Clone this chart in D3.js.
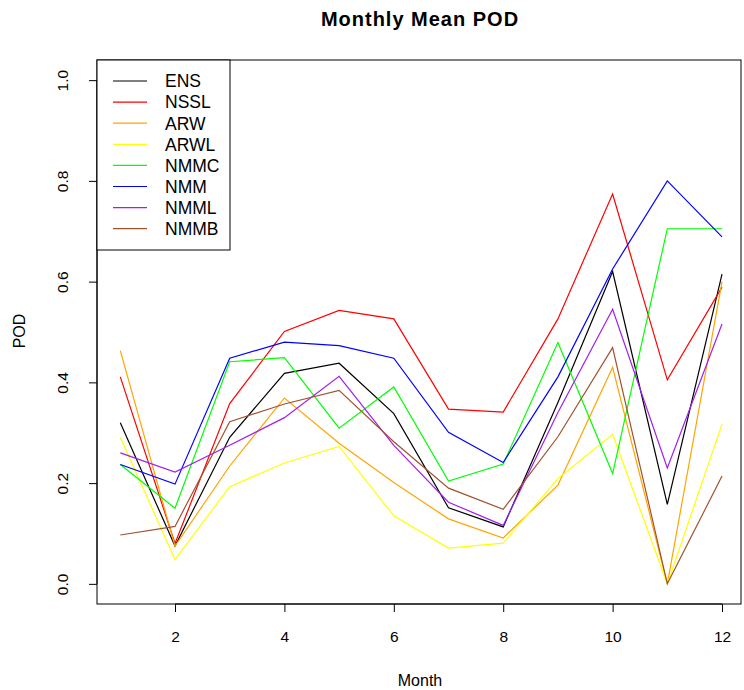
<!DOCTYPE html>
<html>
<head>
<meta charset="utf-8">
<script src="https://cdn.jsdelivr.net/npm/d3@7"></script>
<style>
  body { margin: 0; background: #fff; }
  svg text { font-family: "Liberation Sans", Arial, sans-serif; }
</style>
</head>
<body>
<svg id="chart" width="744" height="690"></svg>
<script>
// months 1..12
var months = [1, 2, 3, 4, 5, 6, 7, 8, 9, 10, 11, 12];
var seriesNames = ["ENS", "NSSL", "ARW", "ARWL", "NMMC", "NMM", "NMML", "NMMB"];
var seriesColors = ["#000000", "#ff0000", "#ffa500", "#ffff00", "#00ff00", "#0000ff", "#a020f0", "#a0522d"];

var ens  = [0.320, 0.075, 0.291, 0.418, 0.438, 0.338, 0.151, 0.113, 0.360, 0.620, 0.158, 0.615];
var nssl = [0.411, 0.080, 0.358, 0.501, 0.543, 0.526, 0.347, 0.341, 0.526, 0.774, 0.405, 0.589];
var arw  = [0.463, 0.075, 0.234, 0.369, 0.279, 0.201, 0.129, 0.091, 0.196, 0.430, 0.000, 0.600];
var arwl = [0.291, 0.048, 0.193, 0.240, 0.273, 0.135, 0.071, 0.081, 0.209, 0.297, 0.000, 0.317];
var nmmc = [0.237, 0.150, 0.441, 0.449, 0.309, 0.391, 0.204, 0.238, 0.479, 0.219, 0.705, 0.705];
var nmm  = [0.237, 0.198, 0.448, 0.480, 0.473, 0.448, 0.301, 0.241, 0.411, 0.625, 0.800, 0.689];
var nmml = [0.260, 0.222, 0.275, 0.330, 0.412, 0.275, 0.162, 0.116, 0.340, 0.545, 0.230, 0.516];
var nmmb = [0.097, 0.114, 0.322, 0.357, 0.384, 0.282, 0.190, 0.148, 0.292, 0.469, 0.000, 0.214];
var seriesValues = [ens, nssl, arw, arwl, nmmc, nmm, nmml, nmmb];

var xTicks = [2, 4, 6, 8, 10, 12];
var yTicks = [0, 0.2, 0.4, 0.6, 0.8, 1.0];

var svg = d3.select("#chart");
var boxL = 97, boxR = 741, boxT = 60, boxB = 604;

var x = d3.scaleLinear().domain([0.574, 12.347]).range([boxL, boxR]);
var y = d3.scaleLinear().domain([-0.04, 1.04]).range([boxB, boxT]);

// title
svg.append("text")
    .attr("x", 420)
    .attr("y", 26)
    .attr("text-anchor", "middle")
    .style("font-size", "20px")
    .style("font-weight", "bold")
    .style("letter-spacing", "1px")
    .text("Monthly Mean POD");

// axes
var xAxis = svg.append("g")
    .attr("transform", "translate(0," + boxB + ")")
    .call(d3.axisBottom(x).tickValues(xTicks).tickSize(8).tickFormat(d3.format("d")));
xAxis.select(".domain").attr("d", "M" + x(2) + ",0H" + x(12));
xAxis.selectAll(".tick text").attr("y", 38).attr("dy", 0);

var yAxis = svg.append("g")
    .attr("transform", "translate(" + boxL + ",0)")
    .call(d3.axisLeft(y).tickValues(yTicks).tickSize(8).tickFormat(d3.format(".1f")));
yAxis.select(".domain").attr("d", "M0," + y(0) + "V" + y(1));
yAxis.selectAll(".tick text")
    .attr("transform", "rotate(-90)")
    .attr("x", 0)
    .attr("y", -34)
    .attr("dy", "0.35em")
    .style("text-anchor", "middle");

svg.selectAll(".tick text").style("font-size", "15.5px").attr("fill", "#000");
svg.selectAll(".domain, .tick line").attr("stroke", "#000");

// plot box
svg.append("rect")
    .attr("x", boxL).attr("y", boxT)
    .attr("width", boxR - boxL).attr("height", boxB - boxT)
    .attr("fill", "none").attr("stroke", "#000").attr("stroke-width", 1);

// axis labels
svg.append("text")
    .attr("x", 420)
    .attr("y", 686)
    .attr("text-anchor", "middle")
    .style("font-size", "16px")
    .text("Month");
svg.append("text")
    .attr("transform", "translate(25," + 331 + ") rotate(-90)")
    .attr("text-anchor", "middle")
    .style("font-size", "16px")
    .text("POD");

// lines
var line = d3.line()
    .x(function(d, i) { return x(months[i]); })
    .y(function(d) { return y(d); });

seriesValues.forEach(function(vals, k) {
    svg.append("path")
        .datum(vals)
        .attr("d", line)
        .attr("fill", "none")
        .attr("stroke", seriesColors[k])
        .attr("stroke-width", 1.2);
});

// legend
var legend = svg.append("g");
legend.append("rect")
    .attr("x", boxL).attr("y", boxT)
    .attr("width", 133).attr("height", 190)
    .attr("fill", "#fff").attr("stroke", "#000");
seriesNames.forEach(function(name, k) {
    var ly = boxT + 21 + k * 21.1;
    legend.append("line")
        .attr("x1", 113).attr("x2", 147)
        .attr("y1", ly).attr("y2", ly)
        .attr("stroke", seriesColors[k]).attr("stroke-width", 1.2);
    legend.append("text")
        .attr("x", 165).attr("y", ly)
        .attr("dy", "0.36em")
        .style("font-size", "17.5px")
        .text(name);
});
</script>
</body>
</html>
